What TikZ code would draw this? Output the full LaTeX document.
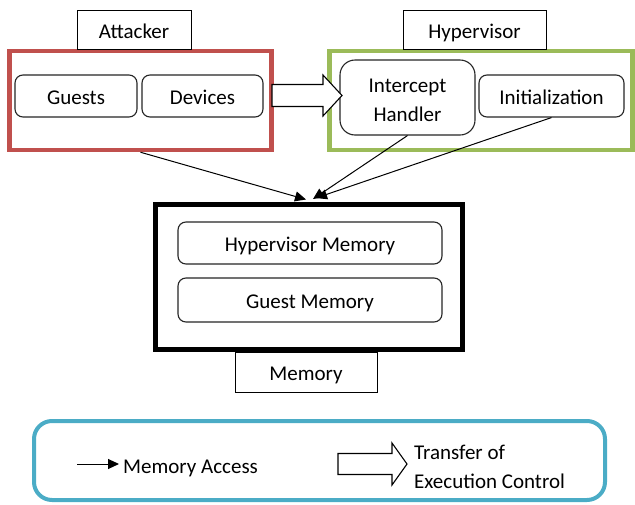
\documentclass[tikz,border=0pt]{standalone}
\usepackage{fontspec}
\setmainfont{Carlito}
\usetikzlibrary{arrows.meta}
\definecolor{framered}{HTML}{C0504D}
\definecolor{framegreen}{HTML}{9BBB59}
\definecolor{framecyan}{HTML}{4BACC6}
\begin{document}
\begin{tikzpicture}[x=1pt,y=-1pt,
  every node/.style={font=\fontsize{21}{29}\selectfont, inner sep=0pt, align=center},
  oneline/.style={text height=17pt, text depth=0pt},
  frame/.style={draw=#1, line width=4.5pt, fill=white},
  labelbox/.style={oneline, draw=black, line width=0.9pt, fill=white},
  roundbox/.style={oneline, draw=black!85, line width=1.1pt, rounded corners=8pt, fill=white},
  ma/.style={draw=black, line width=1pt, -{Triangle[length=11pt,width=10pt]}},
  xfer/.style={draw=black, line width=1.1pt, fill=white, line join=miter}
]
\useasboundingbox (0,0) rectangle (635,504);

% frames
\node[frame=framered, minimum width=262pt, minimum height=99pt] (redframe) at (140.5,100.5) {};
\node[frame=framegreen, minimum width=303pt, minimum height=99pt] (greenframe) at (481,100.5) {};
\node[frame=black, line width=5pt, minimum width=307pt, minimum height=145pt] (memframe) at (309,277) {};

% labels
\node[labelbox, minimum width=114pt, minimum height=39pt] (attacker) at (134,29.5) {Attacker};
\node[labelbox, minimum width=143pt, minimum height=39pt] (hypervisor) at (474.5,29.5) {Hypervisor};
\node[labelbox, minimum width=142pt, minimum height=40pt] (memlabel) at (306,372) {Memory};

% inner boxes
\node[roundbox, minimum width=122pt, minimum height=42pt] (guests) at (76,96) {Guests};
\node[roundbox, minimum width=121pt, minimum height=42pt] (devices) at (202.5,96) {Devices};
\node[roundbox, rounded corners=15pt, minimum width=135pt, minimum height=75pt] (intercept) at (407.5,97.5) {};
\node[yshift=-2.5pt] (intercepttext) at (intercept.center) {Intercept\\Handler};
\node[roundbox, minimum width=145pt, minimum height=42pt] (init) at (551.5,96) {Initialization};
\node[roundbox, minimum width=264pt, minimum height=42pt] (hvmem) at (310,243) {Hypervisor Memory};
\node[roundbox, minimum width=264pt, minimum height=44pt] (gmem) at (310,300) {Guest Memory};

% transfer of execution control arrow
\draw[xfer] (272,84.5) -- (323,84.5) -- (323,75) -- (342,95.5) -- (323,116) -- (323,106.5) -- (272,106.5) -- cycle;

% memory access arrows
\draw[ma] (redframe.south) -- ([xshift=-3pt,yshift=2.5pt]memframe.north);
\draw[ma] (intercept.south) -- ([xshift=4pt,yshift=3pt]memframe.north);
\draw[ma] (init.south) -- ([xshift=7pt,yshift=4pt]memframe.north);

% legend
\node[draw=framecyan, line width=4pt, rounded corners=18pt, minimum width=571pt, minimum height=79pt] (legend) at (319.5,460.5) {};
\coordinate (la) at (77,464);
\coordinate (lb) at (119,464);
\draw[ma] (la) -- (lb);
\node[oneline, anchor=west] (matext) at (123,465) {Memory Access};
\draw[xfer] (338,453.5) -- (392,453.5) -- (392,443) -- (407,464) -- (392,485) -- (392,474.5) -- (338,474.5) -- cycle;
\node[anchor=west, align=left, yshift=-0.5pt] (tectext) at (414,466) {Transfer of\\Execution Control};
\end{tikzpicture}
\end{document}
